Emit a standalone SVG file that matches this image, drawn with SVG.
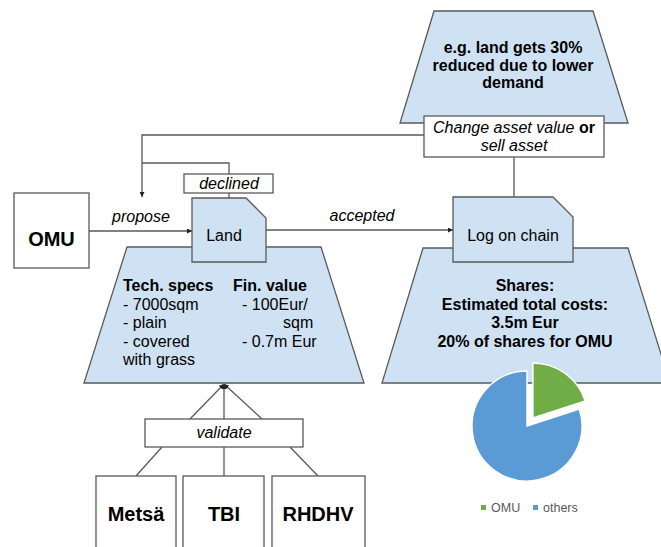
<svg xmlns="http://www.w3.org/2000/svg" width="661" height="547" viewBox="0 0 661 547">
  <style>
    .shape { fill: #cfe2f3; stroke: #595959; stroke-width: 1.3; }
    .box { fill: #ffffff; stroke: #595959; stroke-width: 1.3; }
    .line { fill: none; stroke: #595959; stroke-width: 1.3; }
    text { font-family: "Liberation Sans", Arial, sans-serif; fill: #000000; }
    .b16 { font-size: 16px; font-weight: bold; }
    .r16 { font-size: 16px; }
    .i16 { font-size: 16px; font-style: italic; }
    .b20 { font-size: 20px; font-weight: bold; }
    .mid { text-anchor: middle; }
    .legend { font-size: 12.5px; fill: #595959; }
  </style>
  <defs>
    <marker id="arrow" viewBox="0 0 10 10" refX="10" refY="5" markerWidth="5" markerHeight="5" orient="auto" markerUnits="userSpaceOnUse">
      <path d="M0,0 L10,5 L0,10 Z" fill="#222222"/>
    </marker>
  </defs>

  <!-- scenario: devaluation -->
  <g id="scenario">
    <polygon class="shape" points="434,11 593,11 628,123 400,123"/>
    <text class="b16 mid" x="513" y="53">e.g. land gets 30%</text>
    <text class="b16 mid" x="513" y="70.5">reduced due to lower</text>
    <text class="b16 mid" x="513" y="88">demand</text>
  </g>

  <!-- land details -->
  <g id="land-details">
    <polygon class="shape" points="127,247 321,247 364,383 84,383"/>
    <text class="b16" x="123" y="291">Tech. specs</text>
    <text class="r16" x="123" y="309.5">- 7000sqm</text>
    <text class="r16" x="123" y="328">- plain</text>
    <text class="r16" x="123" y="346.5">- covered</text>
    <text class="r16" x="123" y="365">with grass</text>
    <text class="b16" x="233" y="291">Fin. value</text>
    <text class="r16" x="242" y="309.5">- 100Eur/</text>
    <text class="r16" x="283" y="328">sqm</text>
    <text class="r16" x="242" y="346.5">- 0.7m Eur</text>
  </g>

  <!-- shares -->
  <g id="shares">
    <polygon class="shape" points="423,248 628,248 670,383 382,383"/>
    <text class="b16 mid" x="525" y="291">Shares:</text>
    <text class="b16 mid" x="525" y="310">Estimated total costs:</text>
    <text class="b16 mid" x="525" y="328">3.5m Eur</text>
    <text class="b16 mid" x="525" y="347">20% of shares for OMU</text>
  </g>

  <!-- connectors -->
  <g id="connectors">
    <!-- propose -->
    <line class="line" x1="89" y1="231" x2="192" y2="231" marker-end="url(#arrow)"/>
    <!-- accepted -->
    <line class="line" x1="266" y1="230" x2="453" y2="230" marker-end="url(#arrow)"/>
    <!-- change asset feedback -->
    <polyline class="line" points="424,135 142,135 142,197" marker-end="url(#arrow)"/>
    <!-- declined loop -->
    <polyline class="line" points="229,198 229,163 142,163"/>
    <!-- log on chain to change box -->
    <line class="line" x1="514" y1="157" x2="514" y2="197"/>
    <!-- validation -->
    <line class="line" x1="190" y1="419" x2="224" y2="384" marker-end="url(#arrow)"/>
    <line class="line" x1="224" y1="419" x2="224" y2="384" marker-end="url(#arrow)"/>
    <line class="line" x1="262" y1="419" x2="224" y2="384" marker-end="url(#arrow)"/>
    <line class="line" x1="162" y1="447" x2="136" y2="476"/>
    <line class="line" x1="224" y1="447" x2="224" y2="476"/>
    <line class="line" x1="290" y1="447" x2="318" y2="476"/>
  </g>

  <g id="change-asset">
    <rect class="box" x="424" y="116" width="180" height="41"/>
    <text class="i16 mid" x="514" y="133">Change asset value <tspan font-weight="bold" font-style="normal">or</tspan></text>
    <text class="i16 mid" x="514" y="151">sell asset</text>
  </g>

  <g id="declined">
    <rect class="box" x="184" y="174" width="89" height="19"/>
    <text class="i16 mid" x="229" y="189">declined</text>
  </g>

  <g id="propose-label">
    <text class="i16 mid" x="141" y="222">propose</text>
  </g>

  <g id="accepted-label">
    <text class="i16 mid" x="362" y="221">accepted</text>
  </g>

  <g id="omu">
    <rect class="box" x="14" y="193" width="75" height="75"/>
    <text class="b20 mid" x="51.5" y="246">OMU</text>
  </g>

  <g id="land">
    <path class="shape" d="M192,198 L246,198 L266,218 L266,262 L192,262 Z"/>
    <text class="r16 mid" x="224" y="241">Land</text>
  </g>

  <g id="log-on-chain">
    <path class="shape" d="M453,197 L553,197 L573,217 L573,262 L453,262 Z"/>
    <text class="r16 mid" x="513" y="241">Log on chain</text>
  </g>

  <g id="validate">
    <rect class="box" x="145" y="419" width="158" height="28"/>
    <text class="i16 mid" x="224" y="438">validate</text>
  </g>

  <g id="metsa">
    <rect class="box" x="96" y="476" width="80" height="80"/>
    <text class="b20 mid" x="136" y="521">Metsä</text>
  </g>

  <g id="tbi">
    <rect class="box" x="183" y="476" width="81" height="80"/>
    <text class="b20 mid" x="224" y="521">TBI</text>
  </g>

  <g id="rhdhv">
    <rect class="box" x="272" y="476" width="93" height="80"/>
    <text class="b20 mid" x="318" y="521">RHDHV</text>
  </g>

  <!-- share split pie -->
  <g id="pie">
    <path d="M527,426 L579.3,409 A55,55 0 1 1 527,371 Z" fill="#5b9bd5" stroke="#ffffff" stroke-width="1.5"/>
    <path d="M532.9,417.9 L532.9,362.9 A55,55 0 0 1 585.2,400.9 Z" fill="#70ad47" stroke="#ffffff" stroke-width="1.5"/>
    <rect x="481" y="505" width="5" height="5" fill="#70ad47"/>
    <text class="legend" x="491" y="512">OMU</text>
    <rect x="533" y="505" width="5" height="5" fill="#5b9bd5"/>
    <text class="legend" x="543" y="512">others</text>
  </g>
</svg>
